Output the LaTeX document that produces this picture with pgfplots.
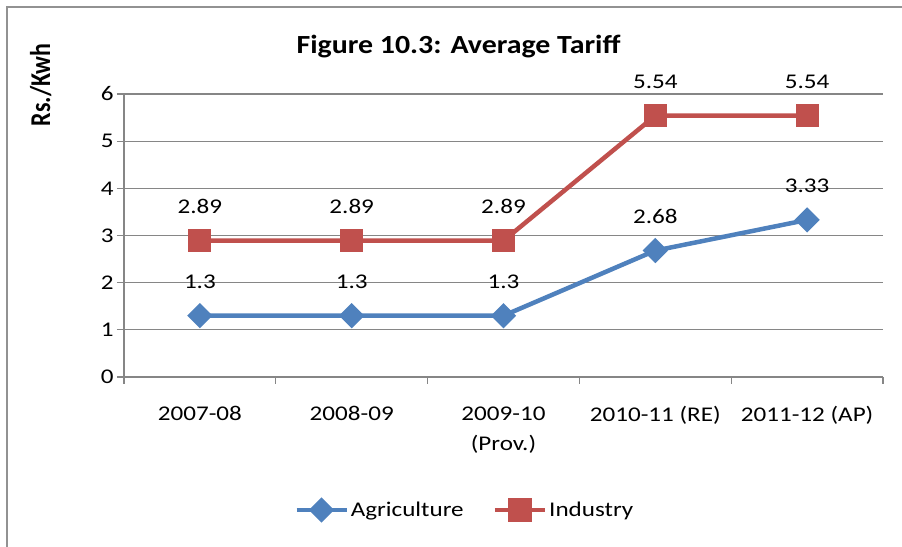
\documentclass[border=0pt]{standalone}
\usepackage{fontspec}
\setmainfont{Carlito}
\usepackage{pgfplots}
\pgfplotsset{compat=1.18}
\definecolor{agri}{HTML}{4F81BD}
\definecolor{ind}{HTML}{C0504D}
\definecolor{gridgray}{HTML}{868686}
\newcommand{\lbl}{\fontsize{21}{31}\selectfont}
\begin{document}
\begin{tikzpicture}
\useasboundingbox (0bp,0bp) rectangle (902bp,547bp);
\draw[gridgray!90, line width=2bp] (7bp,0bp) -- (7bp,540bp) -- (902bp,540bp);
\node[anchor=base, font=\fontsize{25}{30}\selectfont\bfseries] at (458.5bp,493bp) {\scalebox{1.2}[1.05]{Figure 10.3: Average Tariff}};
\node[rotate=90, anchor=base, font=\fontsize{24}{28}\selectfont\bfseries] at (50bp,462bp) {\scalebox{1}[1.2]{Rs./Kwh}};
\begin{axis}[
  at={(124bp,170bp)}, anchor=south west,
  width=759bp, height=283bp, scale only axis,
  clip=false,
  /pgf/number format/assume math mode=true,
  xmin=-0.5, xmax=4.5, ymin=0, ymax=6,
  axis x line=bottom, axis y line=left,
  axis line style={-, gridgray, line width=1.5bp},
  xtick={0,...,4},
  xticklabels={\scalebox{1.2}[1]{2007-08},\scalebox{1.2}[1]{2008-09},\scalebox{1.2}[1]{2009-10}\\\scalebox{1.2}[1]{(Prov.)},\scalebox{1.2}[1]{2010-11 (RE)},\scalebox{1.2}[1]{2011-12 (AP)}},
  xticklabel style={align=center, font=\lbl, yshift=-19bp},
  major x tick style={draw=none},
  extra x ticks={-0.5,0.5,1.5,2.5,3.5,4.5},
  extra x tick labels={},
  extra x tick style={grid=none, major tick length=7bp, tick align=outside, major x tick style={draw=gridgray, line width=1.2bp}},
  ytick={0,...,6},
  yticklabel={\scalebox{1.2}[1]{\pgfmathprintnumber{\tick}}},
  yticklabel style={font=\lbl},
  ymajorgrids, grid style={gridgray, line width=1.2bp},
  tick align=outside, major tick length=7bp,
  major y tick style={gridgray, line width=1.2bp},
  legend style={at={(0.449,-0.47)}, anchor=center, draw=none, fill=none, legend columns=2, font=\lbl,
     /tikz/every even column/.append style={column sep=27bp}},
  legend image code/.code={\draw[mark repeat=2, mark phase=2] plot coordinates {(0bp,0bp) (25bp,0bp) (50bp,0bp)};},
  every node near coord/.style={font=\lbl, text=black, anchor=center, yshift=34bp},
  nodes near coords={\scalebox{1.2}[1]{\pgfplotspointmeta}},
  point meta=explicit symbolic,
]
\addplot[agri, line width=4.5bp, mark=square*, mark size=6.7bp, mark options={rotate=45, solid, fill=agri}]
  coordinates {(0,1.3) [1.3] (1,1.3) [1.3] (2,1.3) [1.3] (3,2.68) [2.68] (4,3.33) [3.33]};
\addlegendentry{\scalebox{1.2}[1]{Agriculture}}
\addplot[ind, line width=4.5bp, mark=square*, mark size=9.3bp, mark options={solid, fill=ind}]
  coordinates {(0,2.89) [2.89] (1,2.89) [2.89] (2,2.89) [2.89] (3,5.54) [5.54] (4,5.54) [5.54]};
\addlegendentry{\scalebox{1.2}[1]{Industry}}
\end{axis}
\end{tikzpicture}
\end{document}
